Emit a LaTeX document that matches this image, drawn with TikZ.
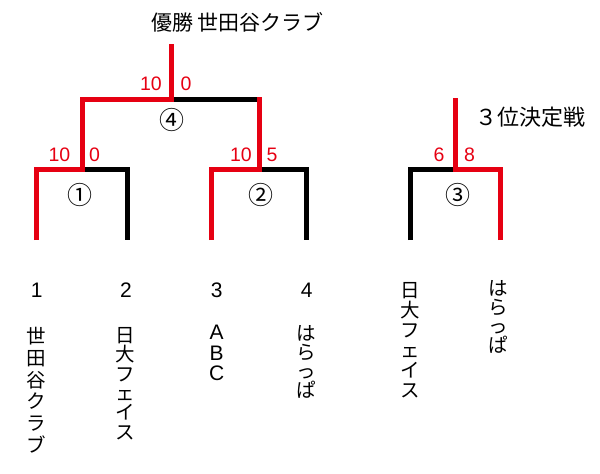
\documentclass[tikz,border=0pt]{standalone}
\usepackage{fontspec}
\setmainfont{Liberation Sans}
\newfontfamily\jp{Noto Sans CJK JP}
\definecolor{wred}{RGB}{230,0,18}
\begin{document}
\begin{tikzpicture}[x=1pt,y=-1pt,line width=5pt,
  win/.style={draw=wred,line join=miter},
  lose/.style={draw=black,line join=miter},
  score/.style={text=wred,font=\fontsize{19.5}{22}\selectfont,inner sep=0pt},
  match/.style={font=\jp\fontsize{25}{28}\selectfont,inner sep=0pt},
  seed/.style={font=\fontsize{21}{24}\selectfont,inner sep=0pt},
  team/.style={align=center,inner sep=0pt,anchor=north},
  head/.style={font=\jp\fontsize{21}{24}\selectfont,inner sep=0pt}]
\useasboundingbox (0,0) rectangle (600,474);
% bracket points
\coordinate (t1) at (36,240);
\coordinate (t2) at (127,240);
\coordinate (t3) at (211,240);
\coordinate (t4) at (306,240);
\coordinate (t5) at (410,240);
\coordinate (t6) at (500,240);
\coordinate (m1) at (82,169);
\coordinate (m2) at (259,169);
\coordinate (m3) at (455,169);
\coordinate (f1) at (82,99);
\coordinate (f2) at (259,99);
\coordinate (m4) at (171,99);
\coordinate (champ) at (171,44);
\coordinate (third) at (455,98);
% losers
\draw[lose] (m1) -| (t2);
\draw[lose] (m2) -| (t4);
\draw[lose] (t5) |- (m3);
\draw[lose] (m4) -- (f2);
% winners
\draw[win] (t1) |- (m1) -- (f1) -- (m4) -- (champ);
\draw[win,shorten >=-2.5pt] (t3) |- (m2) -- (f2);
\draw[win] (t6) |- (m3) -- (third);
% scores
\node[score] (s1a) at (59.5,155) {10};
\node[score] (s1b) at (94.5,155) {0};
\node[score] (s2a) at (241,155) {10};
\node[score] (s2b) at (272,155) {5};
\node[score] (s3a) at (439,155) {6};
\node[score] (s3b) at (469.5,155) {8};
\node[score] (s4a) at (151,83.5) {10};
\node[score] (s4b) at (186,83.5) {0};
% match numbers
\node[match] (c1) at (79.5,195) {①};
\node[match] (c2) at (261,194.5) {②};
\node[match] (c3) at (457.5,195) {③};
\node[match] (c4) at (171.5,120) {④};
% headings
\node[head] (title) at (237.5,22) {優勝 世田谷クラブ};
\node[head,font=\jp\fontsize{22}{25}\selectfont] (thirdlbl) at (530,117) {３位決定戦};
% seeds
\node[seed] (n1) at (36.7,290) {1};
\node[seed] (n2) at (126,290) {2};
\node[seed] (n3) at (216.7,290) {3};
\node[seed] (n4) at (306.7,290) {4};
% teams
\node[team,font=\jp\fontsize{19.5}{21.7}\selectfont] (team1) at (36,325) {世\\田\\谷\\ク\\ラ\\ブ};
\node[team,font=\jp\fontsize{19.5}{19.3}\selectfont] (team2) at (125,325) {日\\大\\フ\\ェ\\イ\\ス};
\node[team,font=\fontsize{21}{20.5}\selectfont] (team3) at (216.7,323) {A\\B\\C};
\node[team,font=\jp\fontsize{19.5}{19}\selectfont] (team4) at (306.7,323) {は\\ら\\っ\\ぱ};
\node[team,font=\jp\fontsize{19.5}{20}\selectfont] (team5) at (410,280) {日\\大\\フ\\ェ\\イ\\ス};
\node[team,font=\jp\fontsize{19.5}{19}\selectfont] (team6) at (498,278) {は\\ら\\っ\\ぱ};
\end{tikzpicture}
\end{document}
